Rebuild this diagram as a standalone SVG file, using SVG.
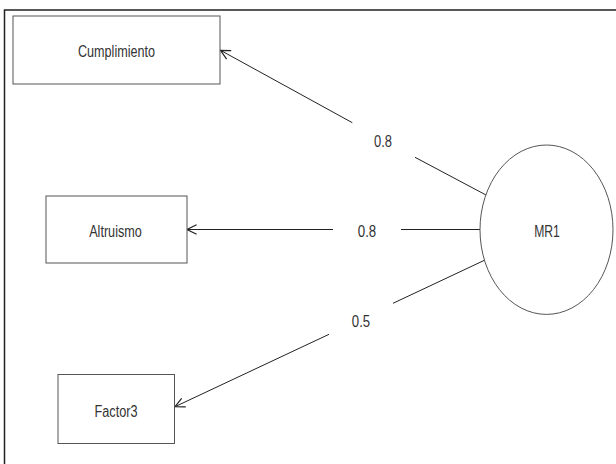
<svg xmlns="http://www.w3.org/2000/svg" width="616" height="464" viewBox="0 0 616 464">
<style>
.box{fill:#fff;stroke:#555;stroke-width:1}
.ell{fill:#fff;stroke:#555;stroke-width:1}
.lbl{font-family:"Liberation Sans",Arial,sans-serif;font-size:16px;fill:#333;text-anchor:middle}
.edge{stroke:#222;stroke-width:1;fill:none}
.frame{stroke:#222;stroke-width:1.5;fill:none}
</style>
<defs>
<marker id="arr" markerUnits="userSpaceOnUse" markerWidth="12" markerHeight="12" refX="9" refY="5" orient="auto" viewBox="0 0 10 10">
<path d="M1,1 L9,5 L1,9" fill="none" stroke="#222" stroke-width="1"/>
</marker>
</defs>
<rect width="616" height="464" fill="#fff"/>
<path class="frame" d="M4.5,464 L4.5,10 L616,10"/>
<g id="connectors">
<line class="edge" x1="486" y1="195" x2="415" y2="157.3"/>
<line class="edge" x1="352.3" y1="122.7" x2="220.5" y2="50.3" marker-end="url(#arr)"/>
<text class="lbl" x="383" y="147" textLength="18" lengthAdjust="spacingAndGlyphs">0.8</text>
<line class="edge" x1="480" y1="229.5" x2="401" y2="229.5"/>
<line class="edge" x1="333" y1="229.5" x2="187" y2="229.5" marker-end="url(#arr)"/>
<text class="lbl" x="367" y="237" textLength="18.5" lengthAdjust="spacingAndGlyphs">0.8</text>
<line class="edge" x1="485" y1="260" x2="393" y2="303.3"/>
<line class="edge" x1="329" y1="334.3" x2="175" y2="406.7" marker-end="url(#arr)"/>
<text class="lbl" x="361" y="326.5" textLength="18.3" lengthAdjust="spacingAndGlyphs">0.5</text>
</g>
<g id="node-cumplimiento">
<rect class="box" x="13" y="16" width="207" height="68"/>
<text class="lbl" x="116.5" y="57" textLength="77" lengthAdjust="spacingAndGlyphs">Cumplimiento</text>
</g>
<g id="node-altruismo">
<rect class="box" x="46" y="196" width="141" height="67"/>
<text class="lbl" x="115.5" y="237" textLength="52.7" lengthAdjust="spacingAndGlyphs">Altruismo</text>
</g>
<g id="node-factor3">
<rect class="box" x="58" y="374.5" width="116.5" height="69"/>
<text class="lbl" x="116" y="416.5" textLength="43" lengthAdjust="spacingAndGlyphs">Factor3</text>
</g>
<g id="node-mr1">
<ellipse class="ell" cx="546.5" cy="229.7" rx="66.5" ry="84.7"/>
<text class="lbl" x="547" y="237" textLength="25.7" lengthAdjust="spacingAndGlyphs">MR1</text>
</g>
</svg>
